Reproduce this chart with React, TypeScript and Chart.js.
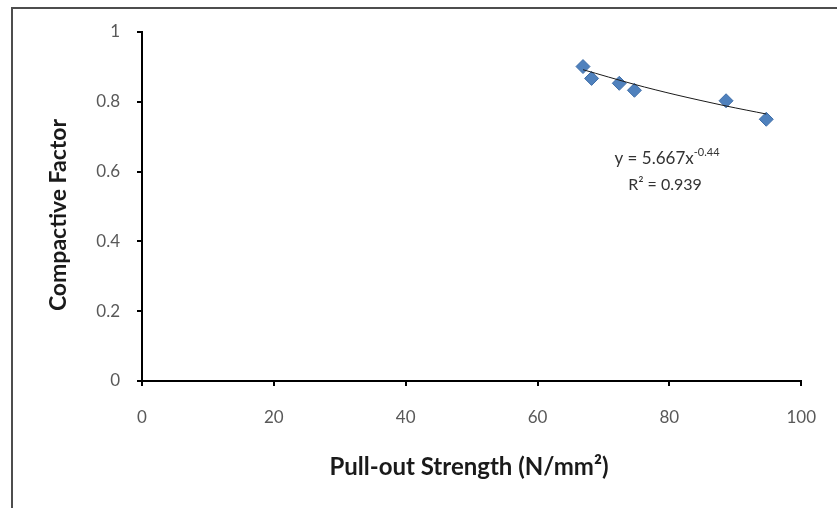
import React, { useEffect, useRef } from "react";
import { Chart, registerables } from "chart.js";

Chart.register(...registerables);

const pullOut: number[] = [66.9, 68.2, 72.4, 74.7, 88.6, 94.7];
const compactive: number[] = [0.901, 0.867, 0.853, 0.833, 0.803, 0.75];
const trendX: number[] = [66.9, 74.7, 81, 88.6, 94.7];
const trendY: number[] = [0.892, 0.85, 0.82, 0.788, 0.765];
const xTicks: number[] = [0, 20, 40, 60, 80, 100];
const yTicks: number[] = [0, 0.2, 0.4, 0.6, 0.8, 1];
const xTitle = "Pull-out Strength (N/mm²)";
const yTitle = "Compactive Factor";
const eqMain = "y = 5.667x";
const eqSup = "-0.44";
const eqR2 = "R² = 0.939";

const FONT = "Lato, 'Open Sans', sans-serif";

const annotations = {
  id: "annotations",
  afterDraw(chart: any) {
    const ctx = chart.ctx as CanvasRenderingContext2D;
    ctx.save();
    // frame
    ctx.strokeStyle = "#4d4d4d";
    ctx.lineWidth = 2;
    ctx.beginPath();
    ctx.moveTo(12, 600);
    ctx.lineTo(12, 8);
    ctx.lineTo(900, 8);
    ctx.stroke();

    // titles
    ctx.fillStyle = "#1a1a1a";
    ctx.textAlign = "center";
    ctx.textBaseline = "middle";
    ctx.font = `bold 24px ${FONT}`;
    ctx.fillText(xTitle, 469, 467);
    ctx.font = `bold 23px ${FONT}`;
    ctx.save();
    ctx.translate(59, 215);
    ctx.rotate(-Math.PI / 2);
    ctx.fillText(yTitle, 0, 0);
    ctx.restore();

    // equation
    ctx.fillStyle = "#333333";
    ctx.font = `17px ${FONT}`;
    const w1 = ctx.measureText(eqMain).width;
    ctx.font = `11px ${FONT}`;
    const w2 = ctx.measureText(eqSup).width;
    const startX = 667 - (w1 + w2) / 2;
    ctx.textAlign = "left";
    ctx.font = `17px ${FONT}`;
    ctx.fillText(eqMain, startX, 159);
    ctx.font = `11px ${FONT}`;
    ctx.fillText(eqSup, startX + w1, 152);
    ctx.font = `16px ${FONT}`;
    ctx.textAlign = "center";
    ctx.fillText(eqR2, 665, 185);
    ctx.restore();
  },
};

export default function App() {
  const ref = useRef<HTMLCanvasElement | null>(null);
  useEffect(() => {
    if (!ref.current) return;
    const chart = new Chart(ref.current, {
      type: "scatter",
      data: {
        datasets: [
          {
            label: "Trend",
            type: "line",
            data: trendX.map((x, i) => ({ x, y: trendY[i] })),
            borderColor: "#1a1a1a",
            borderWidth: 1,
            pointRadius: 0,
            showLine: true,
            fill: false,
            tension: 0.3,
            order: 0,
          } as any,
          {
            label: "Data",
            data: pullOut.map((x, i) => ({ x, y: compactive[i] })),
            pointStyle: "rectRot",
            pointRadius: 7,
            pointHoverRadius: 7,
            backgroundColor: "#4F81BD",
            borderColor: "#3f6ea8",
            borderWidth: 1,
            order: 1,
          },
        ],
      },
      options: {
        animation: false,
        responsive: false,
        devicePixelRatio: 1,
        layout: { padding: { left: 0, top: 32, right: 34, bottom: 0 } },
        plugins: {
          legend: { display: false },
          tooltip: { enabled: false },
        },
        scales: {
          x: {
            type: "linear",
            min: 0,
            max: 100,
            afterFit: (s: any) => {
              s.height = 127;
            },
            afterBuildTicks: (s: any) => {
              s.ticks = xTicks.map((v) => ({ value: v }));
            },
            ticks: {
              color: "#595959",
              font: { family: FONT, size: 17 },
              padding: 21,
              maxRotation: 0,
            },
            grid: {
              drawOnChartArea: false,
              drawTicks: true,
              tickLength: 5,
              color: "#000",
              lineWidth: 2,
            },
            border: { color: "#000", width: 2 },
          },
          y: {
            type: "linear",
            min: 0,
            max: 1,
            afterFit: (s: any) => {
              s.width = 142;
            },
            afterBuildTicks: (s: any) => {
              s.ticks = yTicks.map((v) => ({ value: v }));
            },
            ticks: {
              color: "#595959",
              font: { family: FONT, size: 17 },
              padding: 17,
              callback: (v: any) => String(Math.round(Number(v) * 10) / 10),
            },
            grid: {
              drawOnChartArea: false,
              drawTicks: true,
              tickLength: 5,
              color: "#000",
              lineWidth: 2,
            },
            border: { color: "#000", width: 2 },
          },
        },
      },
      plugins: [annotations],
    });
    return () => chart.destroy();
  }, []);
  return (
    <div style={{ position: "fixed", left: 0, top: 0, width: 837, height: 508, background: "#fff" }}>
      <canvas ref={ref} width={837} height={508} style={{ display: "block" }} />
    </div>
  );
}
